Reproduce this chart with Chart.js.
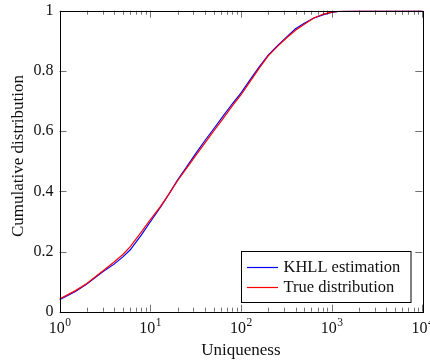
<!DOCTYPE html>
<html>
<head>
<meta charset="utf-8">
<script src="https://cdn.jsdelivr.net/npm/chart.js@4"></script>
<style>
  html, body { margin: 0; padding: 0; background: #fff; }
  #wrap { width: 430px; height: 363px; }
</style>
</head>
<body>
<div id="wrap"><canvas id="myChart" width="430" height="363"></canvas></div>
<script>
// values
const uniqueness = [1, 1.5, 2, 3, 4, 5, 6, 8, 10, 13, 16, 20, 25, 32, 40, 50, 63, 80, 100, 130, 160, 200, 250, 320, 400, 500, 630, 800, 1000, 1300, 2000, 5000, 10000];
const khll = [0.04, 0.067, 0.092, 0.133, 0.158, 0.182, 0.205, 0.255, 0.298, 0.347, 0.39, 0.437, 0.48, 0.527, 0.568, 0.607, 0.648, 0.69, 0.726, 0.776, 0.814, 0.852, 0.882, 0.913, 0.94, 0.958, 0.975, 0.986, 0.994, 0.999, 1, 1, 1];
const trueDist = [0.042, 0.07, 0.094, 0.135, 0.165, 0.19, 0.215, 0.265, 0.305, 0.35, 0.39, 0.435, 0.475, 0.52, 0.56, 0.6, 0.64, 0.683, 0.72, 0.77, 0.81, 0.85, 0.88, 0.91, 0.935, 0.955, 0.975, 0.988, 0.995, 0.999, 1, 1, 1];
const yTicks = [0, 0.2, 0.4, 0.6, 0.8, 1];
const xDecades = [0, 1, 2, 3, 4];
const seriesNames = ["KHLL estimation", "True distribution"];

const FONT = '"Liberation Serif", "Times New Roman", serif';

const toPoints = (ys) => uniqueness.map((x, i) => ({ x: x, y: ys[i] }));

//axes, ticks, labels and legend drawn pgfplots style
const axesPlugin = {
  id: "pgfAxes",
  afterDatasetsDraw(chart) {
    const ctx = chart.ctx;
    const a = chart.chartArea;
    const xs = chart.scales.x;
    const ys = chart.scales.y;
    ctx.save();

    // ticks (inward)
    ctx.strokeStyle = "rgba(0,0,0,0.55)";
    ctx.lineWidth = 1;
    ctx.beginPath();
    for (let d = 0; d < xDecades.length; d++) {
      const e = xDecades[d];
      for (let m = 1; m <= 9; m++) {
        if (d == xDecades.length - 1 && m > 1) break;
        const px = Math.round(xs.getPixelForValue(m * Math.pow(10, e))) + 0.5;
        const len = m == 1 ? 7 : 4;
        ctx.moveTo(px, a.bottom);
        ctx.lineTo(px, a.bottom - len);
        ctx.moveTo(px, a.top);
        ctx.lineTo(px, a.top + len);
      }
    }
    for (const v of yTicks) {
      const py = Math.round(ys.getPixelForValue(v)) + 0.5;
      ctx.moveTo(a.left, py);
      ctx.lineTo(a.left + 7, py);
      ctx.moveTo(a.right, py);
      ctx.lineTo(a.right - 7, py);
    }
    ctx.stroke();

    // frame
    ctx.strokeStyle = "#000";
    ctx.strokeRect(Math.round(a.left) + 0.5, Math.round(a.top) + 0.5,
      Math.round(a.right - a.left), Math.round(a.bottom - a.top));

    // y tick labels
    ctx.fillStyle = "#111";
    ctx.font = "16px " + FONT;
    ctx.textAlign = "right";
    ctx.textBaseline = "middle";
    for (const v of yTicks) {
      ctx.fillText(String(v), a.left - 6, ys.getPixelForValue(v));
    }

    // x tick labels 10^e
    ctx.textBaseline = "alphabetic";
    for (const e of xDecades) {
      const px = xs.getPixelForValue(Math.pow(10, e));
      ctx.font = "16px " + FONT;
      const w1 = ctx.measureText("10").width;
      ctx.font = "11.5px " + FONT;
      const w2 = ctx.measureText(String(e)).width;
      const x0 = px - (w1 + w2) / 2;
      ctx.textAlign = "left";
      ctx.font = "16px " + FONT;
      ctx.fillText("10", x0, a.bottom + 21.5);
      ctx.font = "11.5px " + FONT;
      ctx.fillText(String(e), x0 + w1 + 0.5, a.bottom + 14.5);
    }

    // axis titles
    ctx.font = "17px " + FONT;
    ctx.textAlign = "center";
    ctx.fillText("Uniqueness", (a.left + a.right) / 2, 354.5);
    ctx.save();
    ctx.translate(22.7, 156);
    ctx.rotate(-Math.PI / 2);
    ctx.fillText("Cumulative distribution", 0, 0);
    ctx.restore();

    // legend box
    const lx = 241.5, ly = 251.5, lw = 169.5, lh = 51;
    ctx.fillStyle = "#fff";
    ctx.fillRect(lx, ly, lw, lh);
    ctx.strokeStyle = "#000";
    ctx.strokeRect(lx, ly, lw, lh);
    chart.data.datasets.forEach((ds, i) => {
      const yy = 267.5 + i * 20;
      ctx.strokeStyle = ds.borderColor;
      ctx.lineWidth = 1.2;
      ctx.beginPath();
      ctx.moveTo(247, yy);
      ctx.lineTo(278, yy);
      ctx.stroke();
      ctx.fillStyle = "#111";
      ctx.textAlign = "left";
      ctx.textBaseline = "middle";
      ctx.font = "16.5px " + FONT;
      ctx.fillText(ds.label, 283.5, yy + 0.5);
    });

    ctx.restore();
  },
};

new Chart("myChart", {
  type: "line",
  data: {
    datasets: [
      {
        label: seriesNames[0],
        data: toPoints(khll),
        borderColor: "#0000ff",
        borderWidth: 1.2,
        pointRadius: 0,
        tension: 0,
        fill: false,
        order: 2,
      },
      {
        label: seriesNames[1],
        data: toPoints(trueDist),
        borderColor: "#ff0000",
        borderWidth: 1.2,
        pointRadius: 0,
        tension: 0,
        fill: false,
        order: 1,
      },
    ],
  },
  options: {
    responsive: false,
    animation: false,
    devicePixelRatio: 1,
    layout: { padding: { left: 59.5, right: 7.7, top: 10.7, bottom: 51.3 } },
    plugins: { legend: { display: false }, tooltip: { enabled: false } },
    scales: {
      x: { type: "logarithmic", min: 1, max: 10000, display: false },
      y: { type: "linear", min: 0, max: 1, display: false },
    },
  },
  plugins: [axesPlugin],
});
</script>
</body>
</html>
